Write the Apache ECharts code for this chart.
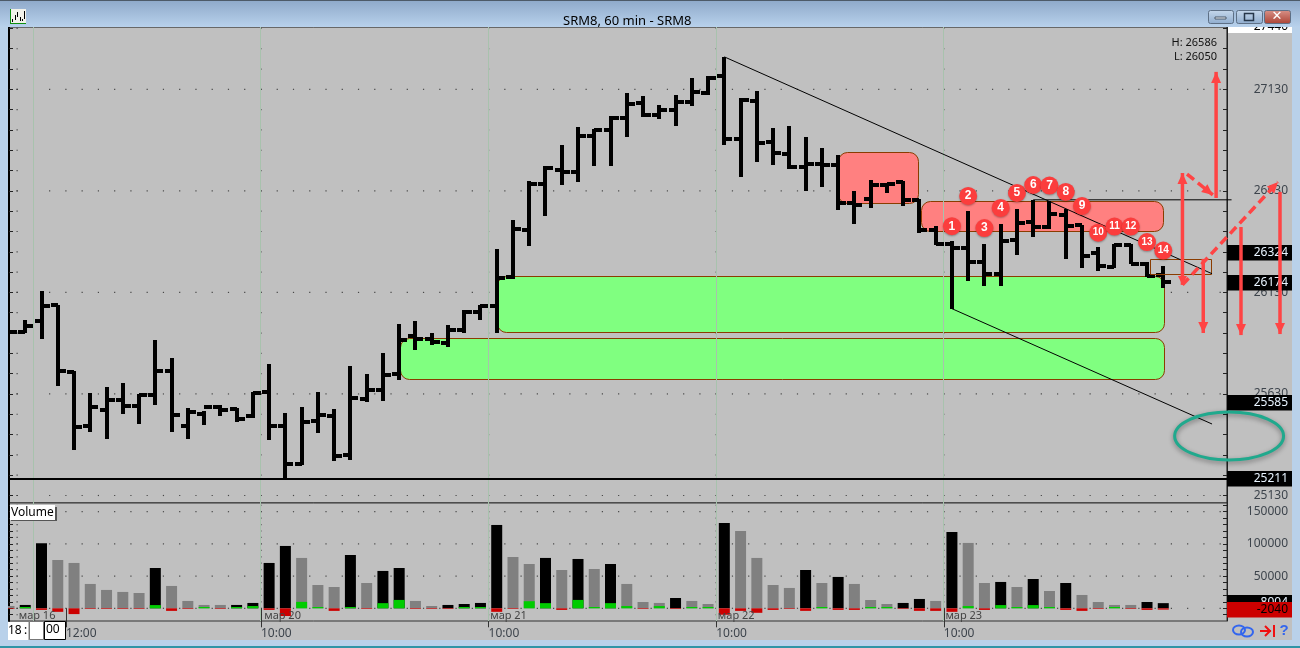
<!DOCTYPE html>
<html><head><meta charset="utf-8">
<style>html,body{margin:0;padding:0;background:#b9d1ea;overflow:hidden}#c{width:1300px;height:648px}</style>
<script src="https://cdn.jsdelivr.net/npm/echarts@6/dist/echarts.min.js"></script>
</head><body><div id="c"></div>
<script>
// ---------- data ----------
const opens  = [25937,25937,25991,26067,25737,25471,25553,25602,25573,25624,25742,25474,25533,25566,25556,25519,25642,25471,25287,25499,25520,25327,25606,25647,25730,25914,25902,25882,25947,26032,26062,26208,26436,26662,26734,26725,26902,26928,26990,27062,27003,27026,27066,27112,27194,26887,27072,26872,26810,26749,26764,26759,26572,26591,26660,26672,26583,26435,26366,26347,26281,26222,26386,26475,26452,26512,26460,26324,26257,26363,26271,26214];
const highs  = [25947,25996,26139,26070,25742,25637,25666,25686,25632,25898,25809,25563,25548,25578,25563,25642,25779,25538,25568,25642,25558,25770,25730,25834,25976,25991,25930,25972,26042,26070,26346,26488,26680,26752,26857,26946,26936,27000,27113,27098,27054,27103,27187,27194,27290,27087,27123,26941,26951,26897,26843,26808,26631,26685,26668,26681,26591,26455,26381,26532,26370,26468,26542,26586,26581,26542,26463,26353,26370,26370,26281,26260];
const lows   = [25927,25930,25902,25671,25356,25445,25410,25533,25484,25578,25445,25410,25479,25519,25494,25514,25405,25204,25278,25440,25302,25307,25592,25597,25701,25848,25873,25862,25931,25993,25931,26196,26360,26508,26661,26675,26754,26754,26897,26995,26985,26951,27049,27103,26857,26700,26774,26759,26739,26631,26651,26538,26469,26544,26619,26558,26422,26363,26050,26188,26163,26163,26316,26404,26443,26296,26252,26237,26252,26268,26207,26153];
const closes = [25937,25963,26062,25742,25465,25565,25602,25573,25624,25742,25528,25540,25566,25553,25509,25637,25471,25287,25494,25525,25322,25609,25647,25725,25894,25902,25884,25947,26032,26062,26203,26444,26662,26744,26725,26902,26928,26990,27059,27003,27026,27066,27117,27187,26887,27079,26867,26818,26749,26764,26759,26572,26562,26660,26663,26583,26435,26366,26348,26281,26222,26381,26470,26450,26517,26458,26307,26262,26363,26271,26211,26180];
const volumes = [3600,5200,101000,75000,70400,37800,28500,25400,23800,62600,34700,11400,5200,5200,5200,8300,70400,96800,78200,36200,33100,82800,39300,58000,62600,11400,3600,5200,6700,8300,129400,79700,68800,78200,59500,76600,61000,68800,37800,9800,8300,16000,11400,6700,132500,120000,78200,36200,31600,59500,39300,48700,37800,12900,6700,8300,14500,11400,118500,101500,39300,40900,33100,45500,26900,39300,20700,9800,5200,5200,9800,8004];
const deltas  = [-1000,2000,-2500,-5500,-9000,-1000,-1000,-1000,-1000,5000,-4000,-1000,2000,-1000,2000,3500,-2500,-12000,10000,2000,-4000,2000,-1000,8000,13000,-1000,-1000,-1000,2000,2000,-5500,-1000,11000,8000,-2500,13000,2000,8000,3500,-1000,3500,-1000,2000,2000,-10000,-4000,-7000,-2500,-1000,-4000,2000,-2500,-2500,2000,2000,-1000,-4000,-4000,-5500,3500,-2500,5000,2000,5000,2000,-2500,-4000,-1000,2000,-1000,-2500,-2040];
const darkBars = [0,1,1,0,0,0,0,0,0,1,0,0,0,0,1,1,1,1,0,0,0,1,0,1,1,0,0,1,1,1,1,0,0,1,0,1,0,1,0,0,0,1,0,0,1,0,0,0,0,1,0,1,0,0,0,1,1,0,1,0,0,1,0,1,0,1,0,0,0,0,1,1];
const priceLabels = [25130,25630,26130,26630,27130];
const volumeLabels = [50000,100000,150000];
const priceMarkers = [26324,26174,25585,25211];
const levelLine = 25211;
const dayLines = [1.5,15.5,29.5,43.5,57.5];
const dotColumns = [0.5,15.5,29.5,43.5,57.5];
const timeTicks = [3.5,15.5,29.5,43.5,57.5];
const timeLabels = ['12:00','10:00','10:00','10:00','10:00'];
const datePlaces = [0.6,15.7,29.6,43.6,57.6];
const dateLabels = ['мар 16','мар 20','мар 21','мар 22','мар 23'];
// zones: x0, x1, priceTop, priceBottom
const redZones = [[51.0,55.95,26820,26567],[56.1,71.0,26579,26429]];
const greenZones = [[30.0,71.05,26212,25934],[24.05,71.05,25907,25703]];
const boxZones = [[70.2,73.95,26294,26221]];
// thin lines: x0, price0, x1, price1
const trendLines = [[44,27290,74,26222],[58,26050,74,25482],[63,26586,75.2,26586]];
// arrows: x0, price0, x1, price1, dashed, both heads
const arrows = [
 [72.18,26167,72.18,26718,0,1],
 [72.46,26713,74.05,26610,1,0],
 [74.25,26595,74.25,27216,0,0],
 [72.18,26167,78.06,26674,1,0],
 [73.46,26295,73.46,25930,0,0],
 [75.78,26452,75.78,25920,0,0],
 [78.18,26625,78.18,25925,0,0]
];
const ringAnnotation = [[75.05,25423,3.35,118]];
const badgeBars = [58,59,60,61,62,63,64,65,66,67,68,69,70,71];
const badgePrices = [26456,26605,26447,26546,26620,26659,26656,26625,26556,26424,26454,26454,26378,26336];
const highLowText = ['H: 26586','L: 26050'];

// ---------- style ----------
const FONT = '"Noto Sans"';
const X_MAX = 74.92, P_MIN = 25093, P_MAX = 27437, V_MIN = -19720, V_MAX = 163500;
const GRAY = '#c0c0c0', TXT = '#3d444c', BLUE = '#b9d1ea';
const range = (a, b, s) => { const r = []; for (let v = a; v <= b; v += s) r.push(v); return r; };
const priceTicks = range(25130, 27430, 100), volumeTicks = range(-10000, 160000, 10000);

const priceDots = [], volumeDots = [];
const rowX = range(0, 74, 1).filter(i => i !== 1).map(i => i + 0.5);
priceLabels.forEach(p => rowX.forEach(x => priceDots.push([x, p])));
dotColumns.forEach(x => priceTicks.forEach(p => priceDots.push([x, p])));
[0, 50000, 100000, 150000].forEach(v => rowX.forEach(x => volumeDots.push([x, v])));
dotColumns.forEach(x => volumeTicks.forEach(v => volumeDots.push([x, v])));

const ohlc = opens.map((o, i) => [i, o, highs[i], lows[i], closes[i]]);
function renderBar(p, api) {
  const x = Math.round(api.coord([api.value(0), 0])[0]);
  const yO = Math.round(api.coord([0, api.value(1)])[1]), yH = Math.round(api.coord([0, api.value(2)])[1]);
  const yL = Math.round(api.coord([0, api.value(3)])[1]), yC = Math.round(api.coord([0, api.value(4)])[1]);
  const st = { fill: '#000' };
  return { type: 'group', children: [
    { type: 'rect', shape: { x: x - 2, y: yH, width: 4, height: yL - yH }, style: st },
    { type: 'rect', shape: { x: x - 7, y: yO - 2, width: 7, height: 4 }, style: st },
    { type: 'rect', shape: { x: x, y: yC - 2, width: 8, height: 4 }, style: st }
  ]};
}
function zoneRender(fill, stroke, r) {
  return function (p, api) {
    const a = api.coord([api.value(0), api.value(2)]), b = api.coord([api.value(1), api.value(3)]);
    return { type: 'rect', shape: { x: Math.round(a[0]) + .5, y: Math.round(a[1]) + .5, width: Math.round(b[0] - a[0]), height: Math.round(b[1] - a[1]), r: r },
      style: { fill: fill, stroke: stroke, lineWidth: 1 } };
  };
}
function renderThin(p, api) {
  const a = api.coord([api.value(0), api.value(1)]), b = api.coord([api.value(2), api.value(3)]);
  return { type: 'line', shape: { x1: a[0], y1: a[1], x2: b[0], y2: b[1] }, style: { stroke: '#000', lineWidth: 1 } };
}
function head(t, f, L, W) {
  const dx = t[0] - f[0], dy = t[1] - f[1], d = Math.hypot(dx, dy), ux = dx / d, uy = dy / d;
  return { type: 'polygon', shape: { points: [t, [t[0] - ux * L - uy * W, t[1] - uy * L + ux * W], [t[0] - ux * L + uy * W, t[1] - uy * L - ux * W]] }, style: { fill: '#ff4444' } };
}
function renderArrow(p, api) {
  const a = api.coord([api.value(0), api.value(1)]), b = api.coord([api.value(2), api.value(3)]);
  const dashed = api.value(4), both = api.value(5);
  const kids = [{ type: 'line', shape: { x1: a[0], y1: a[1], x2: b[0], y2: b[1] },
    style: { stroke: '#ff4444', lineWidth: 3.5, lineDash: dashed ? [9, 5] : null } }, head(b, a, 11, 5)];
  if (both) kids.push(head(a, b, 9, 4.5));
  return { type: 'group', children: kids };
}
function renderRing(p, api) {
  const c = api.coord([api.value(0), api.value(1)]), e = api.coord([api.value(0) + api.value(2), api.value(1) + api.value(3)]);
  return { type: 'ellipse', shape: { cx: c[0], cy: c[1], rx: e[0] - c[0], ry: c[1] - e[1] },
    style: { fill: 'none', stroke: '#20a98d', lineWidth: 3, shadowBlur: 5, shadowColor: 'rgba(0,0,0,.4)', shadowOffsetY: 2 } };
}
function markerRender(fill, color) {
  return function (p, api) {
    const c = api.coord([X_MAX, api.value(0)]), y = Math.round(c[1]), x = Math.round(c[0]);
    return { type: 'group', children: [
      { type: 'rect', shape: { x: x, y: y - 8, width: 65, height: 15.5 }, style: { fill: fill } },
      { type: 'text', style: { text: String(api.value(0)), x: x + 61, y: y, align: 'right', verticalAlign: 'middle', fill: color, font: '12px ' + FONT } }
    ]};
  };
}
function renderDayLine(p, api) {
  const x = Math.floor(api.coord([api.value(0), 0])[0]) + .5;
  const s = p.coordSys;
  return { type: 'line', shape: { x1: x, y1: s.y, x2: x, y2: s.y + s.height }, style: { stroke: '#a8c2ad', lineWidth: 1 } };
}
const onPrice = { xAxisIndex: 0, yAxisIndex: 0 }, onVol = { xAxisIndex: 1, yAxisIndex: 2 };
const barSet = (name, color, pick) => ({
  type: 'bar', name: name, ...onVol, barWidth: 11, barGap: '-100%', z: 3, silent: true, clip: true, itemStyle: { color: color },
  data: volumes.map((v, i) => [i, pick(v, i)]).filter(d => d[1] !== null)
});

// ---------- window chrome (behind / around the plot) ----------
const rect = (x, y, w, h, fill, z, stroke) => ({ type: 'rect', z: z, silent: true, shape: { x, y, width: w, height: h }, style: { fill, stroke: stroke || null, lineWidth: 1 } });
const label = (text, x, y, fill, size, z, align) => ({ type: 'text', z: z, silent: true, style: { text, x, y, fill, font: (size || 12) + 'px ' + FONT, align: align || 'left', verticalAlign: 'middle' } });
const grad = (a, b) => ({ type: 'linear', x: 0, y: 0, x2: 0, y2: 1, colorStops: [{ offset: 0, color: a }, { offset: 1, color: b }] });
const btn = (x, w, a, b) => ({ type: 'rect', z: 31, silent: true, shape: { x: x + .5, y: 10.5, width: w, height: 13, r: 2 }, style: { fill: grad(a, b), stroke: '#5d6f85', lineWidth: 1 } });
const graphics = [
  rect(0, 0, 1300, 648, BLUE, -6),
  rect(1227, 27, 65, 594, GRAY, -5),
  rect(9, 621, 1283, 19, GRAY, -5),
  rect(0, 27, 8, 613, BLUE, 25),
  rect(0, 0, 1300, 27, grad('#8ea9c9', '#b8d1ec'), 30),
  rect(0, 0, 1300, 1, '#4d5a68', 31),
  rect(1227, 27, 65, 6, '#ffffff', -4),
  rect(0, 646, 1300, 2, '#2f94a6', 31),
  // chart-type icon
  rect(10, 9, 16, 15, '#f2f2ea', 31),
  rect(10, 9, 1, 15, '#109010', 32), rect(10, 23, 16, 1, '#109010', 32),
  rect(12, 19, 1, 3, '#000', 32), rect(15, 15, 1, 5, '#000', 32), rect(17, 12, 1, 5, '#000', 32),
  rect(20, 17, 1, 4, '#000', 32), rect(22, 19, 1, 2, '#000', 32), rect(24, 11, 1, 8, '#000', 32),
  // window buttons
  btn(1208, 25, '#c6d8ec', '#8facce'), btn(1236, 26, '#c6d8ec', '#8facce'), btn(1264, 26, '#d89288', '#ab4234'),
  rect(1215, 17, 11, 2, '#eef3fa', 32, '#4a5868'),
  { type: 'rect', z: 32, silent: true, shape: { x: 1244.5, y: 13.5, width: 9, height: 7 }, style: { fill: 'none', stroke: '#26364a', lineWidth: 1.5 } },
  { type: 'text', z: 32, silent: true, style: { text: '✕', x: 1277, y: 17, fill: '#fff', font: 'bold 13px "DejaVu Sans"', align: 'center', verticalAlign: 'middle' } },
  // Volume tag
  rect(11, 507, 46, 14, '#555', 20),
  rect(10, 505, 45, 15, '#fff', 21),
  label('Volume', 11, 513, '#000', 12, 22),
  // H/L
  label(highLowText[0], 1217, 43, '#111', 11, 20, 'right'),
  label(highLowText[1], 1217, 57, '#111', 11, 20, 'right'),
  // date-time entry boxes
  rect(8, 622, 20, 18, '#fff', 26),
  label('18', 8, 631, '#000', 12, 27),
  label(':', 24, 631, '#000', 12, 27),
  { type: 'rect', z: 26, silent: true, shape: { x: 29.5, y: 621.5, width: 14, height: 18 }, style: { fill: '#fff', stroke: '#777', lineWidth: 1 } },
  { type: 'rect', z: 26, silent: true, shape: { x: 44.5, y: 621.5, width: 21, height: 18 }, style: { fill: '#fff', stroke: '#000', lineWidth: 1 } },
  label('00', 46, 630, '#000', 12, 27),
  // bottom-right tool icons
  { type: 'ellipse', z: 20, silent: true, shape: { cx: 1239, cy: 630, rx: 6, ry: 4.5 }, style: { fill: 'none', stroke: '#3366ee', lineWidth: 2 } },
  { type: 'ellipse', z: 20, silent: true, shape: { cx: 1247, cy: 632, rx: 6, ry: 4.5 }, style: { fill: 'none', stroke: '#3366ee', lineWidth: 2 } },
  { type: 'polyline', z: 20, silent: true, shape: { points: [[1260, 631], [1271, 631]] }, style: { stroke: '#f01010', lineWidth: 2, fill: 'none' } },
  { type: 'polyline', z: 20, silent: true, shape: { points: [[1265, 626], [1270, 631], [1265, 636]] }, style: { stroke: '#f01010', lineWidth: 2, fill: 'none' } },
  rect(1273, 625, 2, 12, '#f01010', 20),
  { type: 'text', z: 20, silent: true, style: { text: '?', x: 1284, y: 631, fill: '#3366ee', font: 'bold 15px "Liberation Sans"', align: 'center', verticalAlign: 'middle' } }
];

const xHidden = g => ({ type: 'value', gridIndex: g, min: 0, max: X_MAX, splitLine: { show: false }, axisLine: { show: false }, axisTick: { show: false }, axisLabel: { show: false } });
const yAxisOf = (g, pos, minV, maxV, ticks, labels, lineW, lineC) => ({
  type: 'value', gridIndex: g, position: pos, min: minV, max: maxV, splitLine: { show: false },
  axisLine: { show: true, onZero: false, lineStyle: { color: lineC, width: lineW } },
  axisTick: { show: true, inside: true, length: 4, customValues: ticks, lineStyle: { color: '#222' } },
  axisLabel: labels ? { show: true, customValues: labels, align: 'right', margin: 61, color: TXT, fontFamily: FONT, fontSize: 12, formatter: v => String(v) } : { show: false }
});

const option = {
  animation: false,
  backgroundColor: 'transparent',
  title: { text: 'SRM8, 60 min - SRM8', left: 558, top: 10, textStyle: { color: '#000', fontFamily: FONT, fontWeight: 'normal', fontSize: 13 }, z: 40 },
  graphic: { elements: graphics },
  grid: [
    { left: 9, top: 27, width: 1218, height: 476, show: true, backgroundColor: GRAY, borderColor: '#111', borderWidth: 1 },
    { left: 9, top: 503, width: 1218, height: 118, show: true, backgroundColor: GRAY, borderColor: '#333', borderWidth: 1 }
  ],
  xAxis: [
    xHidden(0),
    { type: 'value', gridIndex: 1, position: 'bottom', min: 0, max: X_MAX, splitLine: { show: false }, axisLine: { show: false },
      axisTick: { show: true, length: 19, customValues: timeTicks, lineStyle: { color: '#333' } },
      axisLabel: { show: true, customValues: timeTicks, align: 'left', margin: 7, color: TXT, fontFamily: FONT, fontSize: 12,
        formatter: v => timeLabels[timeTicks.indexOf(v)] } },
    { type: 'value', gridIndex: 1, position: 'bottom', min: 0, max: X_MAX, splitLine: { show: false }, axisLine: { show: false }, axisTick: { show: false },
      axisLabel: { show: true, inside: true, customValues: datePlaces, align: 'left', margin: 0, color: '#444', fontFamily: FONT, fontSize: 11,
        formatter: v => dateLabels[datePlaces.indexOf(v)] }, z: 10 }
  ],
  yAxis: [
    yAxisOf(0, 'right', P_MIN, P_MAX, priceTicks, priceLabels, 1, '#222'),
    yAxisOf(0, 'left', P_MIN, P_MAX, priceTicks, null, 2, '#000'),
    yAxisOf(1, 'right', V_MIN, V_MAX, volumeTicks, volumeLabels, 1, '#222'),
    yAxisOf(1, 'left', V_MIN, V_MAX, volumeTicks, null, 2, '#000')
  ],
  series: [
    { type: 'scatter', ...onPrice, symbol: 'rect', symbolSize: 1.2, z: 1, silent: true, itemStyle: { color: '#222', opacity: .75 }, data: priceDots },
    { type: 'scatter', ...onVol, symbol: 'rect', symbolSize: 1.2, z: 1, silent: true, itemStyle: { color: '#222', opacity: .75 }, data: volumeDots },
    { type: 'custom', ...onPrice, z: 2, silent: true, renderItem: zoneRender('#80ff80', '#8a3c00', 9), data: greenZones },
    { type: 'custom', ...onPrice, z: 2, silent: true, renderItem: zoneRender('#ff8080', '#8a3c00', 9), data: redZones },
    { type: 'custom', ...onPrice, z: 3, silent: true, renderItem: renderDayLine, data: dayLines.map(x => [x]) },
    { type: 'custom', ...onVol, z: 2, silent: true, renderItem: renderDayLine, data: dayLines.map(x => [x]) },
    barSet('black', '#000', (v, i) => darkBars[i] ? v : null),
    barSet('gray', '#808080', (v, i) => darkBars[i] ? null : v),
    barSet('up', '#00cc00', (v, i) => deltas[i] > 0 ? deltas[i] : null),
    barSet('down', '#cc0000', (v, i) => deltas[i] < 0 ? deltas[i] : null),
    { type: 'line', ...onPrice, z: 4, silent: true, symbol: 'none', lineStyle: { color: '#000', width: 2 }, data: [[0, levelLine], [X_MAX, levelLine]] },
    { type: 'custom', ...onPrice, z: 5, silent: true, clip: true, renderItem: renderBar, encode: { x: 0, y: [1, 2, 3, 4] }, data: ohlc },
    { type: 'custom', ...onPrice, z: 6, silent: true, renderItem: zoneRender('none', '#8a3c00', 0), data: boxZones },
    { type: 'custom', ...onPrice, z: 6, silent: true, renderItem: renderThin, data: trendLines },
    { type: 'custom', ...onPrice, z: 9, silent: true, renderItem: markerRender('#000', '#e8f4ff'), data: priceMarkers.map(v => [v]) },
    { type: 'custom', ...onPrice, z: 10, silent: true, renderItem: function (p, api) {
        const c = api.coord([X_MAX, api.value(0)]);
        return { type: 'text', style: { text: String(api.value(0)), x: c[0] + 61, y: c[1], align: 'right', verticalAlign: 'middle', fill: '#000', font: '12px ' + FONT } };
      }, data: [[27440]] },
    { type: 'custom', ...onVol, z: 9, silent: true, renderItem: markerRender('#000', '#e8f4ff'), data: [[volumes[71]]] },
    { type: 'custom', ...onVol, z: 10, silent: true, renderItem: markerRender('#cc0000', '#000'), data: [[deltas[71]]] },
    { type: 'custom', ...onPrice, z: 11, silent: true, renderItem: renderRing, data: ringAnnotation },
    { type: 'custom', ...onPrice, z: 12, silent: true, renderItem: renderArrow, data: arrows },
    { type: 'scatter', ...onPrice, z: 13, silent: true, symbol: 'circle', symbolSize: 18, clip: false,
      itemStyle: { color: '#fb3d3d', opacity: 1, shadowBlur: 2, shadowColor: 'rgba(0,0,0,.3)', shadowOffsetY: 1 },
      label: { show: true, position: 'inside', color: '#fff', fontFamily: '"Liberation Sans"', fontWeight: 'bold', formatter: p => p.value[2] },
      data: badgeBars.map((b, i) => ({ value: [b, badgePrices[i], i + 1], label: { fontSize: i < 9 ? 12 : 10 } })) }
  ]
};
const chart = echarts.init(document.getElementById('c'), null, { renderer: 'canvas' });
chart.setOption(option);
</script></body></html>
